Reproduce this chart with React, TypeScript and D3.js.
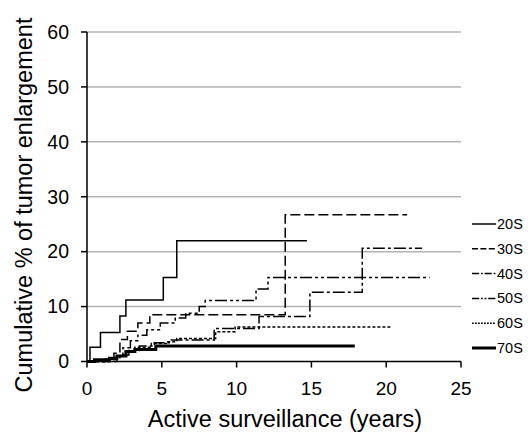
import React from "react";
import { scaleLinear, line, curveStepAfter } from "d3";

// age-group curves: [years, cumulative %] at each step
const groups = ["20S", "30S", "40S", "50S", "60S", "70S"];
const steps20 = [[0, 0], [0.2, 2.6], [0.9, 5.3], [2.2, 8.3], [2.6, 11.2], [5.1, 15.3], [6.0, 22.0], [14.7, 22.0]];
const steps30 = [[0, 0], [1.8, 1.5], [2.2, 4.0], [2.7, 5.5], [3.4, 7.0], [4.2, 8.5], [13.25, 26.7], [21.4, 26.7]];
const steps40 = [[0, 0], [1.5, 0.5], [2.2, 1.2], [2.8, 2.0], [3.5, 2.8], [4.5, 3.4], [5.5, 3.9], [8.5, 6.0], [11.5, 8.2], [14.9, 12.6], [18.4, 20.6], [22.4, 20.6]];
const steps50 = [[0, 0], [2.0, 1.0], [2.4, 2.5], [2.9, 3.8], [3.4, 4.8], [4.0, 5.8], [4.9, 7.0], [5.9, 7.9], [6.6, 8.8], [7.5, 10.0], [7.9, 11.1], [11.3, 13.2], [12.1, 15.3], [22.9, 15.3]];
const steps60 = [[0, 0], [1.2, 0.4], [2.0, 1.0], [2.6, 1.8], [3.2, 2.6], [4.3, 3.3], [5.3, 3.6], [6.0, 4.2], [8.6, 5.4], [9.9, 6.3], [20.3, 6.3]];
const steps70 = [[0, 0], [0.5, 0.3], [1.5, 0.6], [2.0, 1.0], [2.6, 1.8], [3.2, 2.2], [4.6, 2.8], [17.9, 2.8]];
const allSteps = [steps20, steps30, steps40, steps50, steps60, steps70];

const xTicks = [0, 5, 10, 15, 20, 25];
const yTicks = [0, 10, 20, 30, 40, 50, 60];

const dashes = ["none", "10,4", "12,3,3,3", "12,3,3,3,3,3", "3,2", "none"];
const widths = [1.5, 1.5, 1.5, 1.5, 1.5, 3];

export default function App() {
  const x = scaleLinear().domain([0, 25]).range([87, 461]);
  const y = scaleLinear().domain([0, 60]).range([361.5, 32]);
  const path = line<number[]>()
    .x((d) => x(d[0]))
    .y((d) => y(d[1]))
    .curve(curveStepAfter);
  const font = "Liberation Sans, Arial, sans-serif";

  return (
    <svg
      width={528}
      height={437}
      style={{ position: "absolute", left: 0, top: 0, background: "#fff" }}
      fontFamily={font}
    >
      {/* grid */}
      {yTicks.slice(1).map((t) => (
        <line key={t} x1={x(0)} x2={x(25)} y1={y(t)} y2={y(t)} stroke="#b3b3b3" strokeWidth={1.5} />
      ))}
      {/* curves */}
      {allSteps.map((s, i) => (
        <path
          key={groups[i]}
          d={path(s) || ""}
          fill="none"
          stroke="#000"
          strokeWidth={widths[i]}
          strokeDasharray={dashes[i]}
        />
      ))}
      {/* axes */}
      <line x1={x(0)} x2={x(0)} y1={y(0)} y2={y(60)} stroke="#000" strokeWidth={1.5} />
      <line x1={x(0)} x2={x(25)} y1={y(0)} y2={y(0)} stroke="#000" strokeWidth={1.5} />
      {yTicks.map((t) => (
        <g key={t}>
          <line x1={x(0) - 6} x2={x(0)} y1={y(t)} y2={y(t)} stroke="#000" strokeWidth={1.5} />
          <text x={69} y={y(t)} dy="0.35em" textAnchor="end" fontSize={19.5}>
            {t}
          </text>
        </g>
      ))}
      {xTicks.map((t) => (
        <g key={t}>
          <line x1={x(t)} x2={x(t)} y1={y(0)} y2={y(0) + 6} stroke="#000" strokeWidth={1.5} />
          <text x={x(t)} y={388} dy="0.35em" textAnchor="middle" fontSize={19}>
            {t}
          </text>
        </g>
      ))}
      <text x={285} y={419} dy="0.35em" textAnchor="middle" fontSize={23.5}>
        Active surveillance (years)
      </text>
      <text
        transform="translate(24,205) rotate(-90)"
        dy="0.35em"
        textAnchor="middle"
        fontSize={23.5}
      >
        Cumulative % of tumor enlargement
      </text>
      {/* legend */}
      {groups.map((g, i) => (
        <g key={g} transform={`translate(0,${224 + i * 24.8})`}>
          <line x1={472} x2={496} y1={0} y2={0} stroke="#000" strokeWidth={widths[i]} strokeDasharray={dashes[i] === "none" ? "none" : dashes[i].split(",").map((v) => +v * 0.6).join(",")} />
          <text x={497} y={0} dy="0.35em" fontSize={14.5}>
            {g}
          </text>
        </g>
      ))}
    </svg>
  );
}
